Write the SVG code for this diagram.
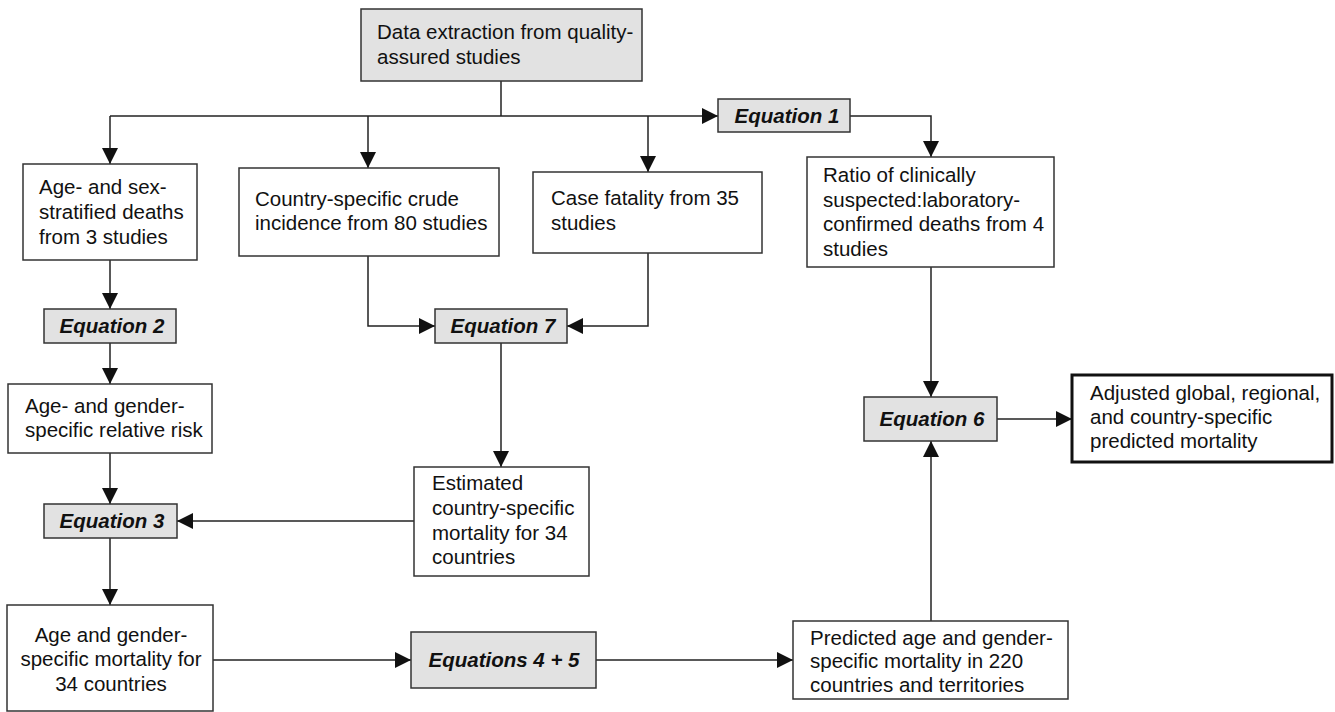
<svg xmlns="http://www.w3.org/2000/svg" width="1335" height="712" viewBox="0 0 1335 712">
<style>
.box{fill:#fff;stroke:#333;stroke-width:1.5}
.eq{fill:#e2e2e2;stroke:#333;stroke-width:1.5}
.bold{fill:#fff;stroke:#111;stroke-width:3}
text{font-family:"Liberation Sans",Arial,sans-serif;font-size:20.5px;fill:#111}
.eqt{font-weight:bold;font-style:italic;text-anchor:middle}
.c{text-anchor:middle}
.ln{fill:none;stroke:#222;stroke-width:1.5}
</style>
<defs>
<marker id="ah" markerUnits="userSpaceOnUse" markerWidth="16" markerHeight="16" viewBox="0 0 16 16" refX="16" refY="8" orient="auto">
<path d="M0,0 L16,8 L0,16 Z" fill="#111"/>
</marker>
</defs>
<g id="connectors">
<path class="ln" d="M501,81 V116"/>
<path class="ln" d="M110,116 H718" marker-end="url(#ah)"/>
<path class="ln" d="M110,116 V164" marker-end="url(#ah)"/>
<path class="ln" d="M368,116 V168" marker-end="url(#ah)"/>
<path class="ln" d="M648,116 V172" marker-end="url(#ah)"/>
<path class="ln" d="M850,116 H931 V157" marker-end="url(#ah)"/>
<path class="ln" d="M110,260 V309" marker-end="url(#ah)"/>
<path class="ln" d="M110,343 V384" marker-end="url(#ah)"/>
<path class="ln" d="M368,256 V326 H435" marker-end="url(#ah)"/>
<path class="ln" d="M648,253 V326 H567" marker-end="url(#ah)"/>
<path class="ln" d="M501,343 V467" marker-end="url(#ah)"/>
<path class="ln" d="M110,453 V504" marker-end="url(#ah)"/>
<path class="ln" d="M414,521 H177" marker-end="url(#ah)"/>
<path class="ln" d="M110,538 V605" marker-end="url(#ah)"/>
<path class="ln" d="M213,660 H411" marker-end="url(#ah)"/>
<path class="ln" d="M596,660 H793" marker-end="url(#ah)"/>
<path class="ln" d="M931,621 V441" marker-end="url(#ah)"/>
<path class="ln" d="M931,267 V397" marker-end="url(#ah)"/>
<path class="ln" d="M997,419 H1072" marker-end="url(#ah)"/>
</g>
<g id="n-data">
<rect class="eq" x="361" y="9" width="281" height="72"/>
<text x="377" y="39">Data extraction from quality-</text>
<text x="377" y="64">assured studies</text>
</g>
<g id="n-eq1">
<rect class="eq" x="718" y="99" width="132" height="33"/>
<text class="eqt" x="787" y="123">Equation 1</text>
</g>
<g id="n-agesex">
<rect class="box" x="23" y="164" width="174" height="96"/>
<text x="39" y="194">Age- and sex-</text>
<text x="39" y="219">stratified deaths</text>
<text x="39" y="244">from 3 studies</text>
</g>
<g id="n-country">
<rect class="box" x="239" y="168" width="260" height="88"/>
<text x="255" y="206">Country-specific crude</text>
<text x="255" y="230">incidence from 80 studies</text>
</g>
<g id="n-case">
<rect class="box" x="533" y="172" width="229" height="81"/>
<text x="551" y="205">Case fatality from 35</text>
<text x="551" y="230">studies</text>
</g>
<g id="n-ratio">
<rect class="box" x="807" y="157" width="247" height="110"/>
<text x="823" y="182">Ratio of clinically</text>
<text x="823" y="207">suspected:laboratory-</text>
<text x="823" y="231">confirmed deaths from 4</text>
<text x="823" y="256">studies</text>
</g>
<g id="n-eq2">
<rect class="eq" x="44" y="309" width="132" height="34"/>
<text class="eqt" x="112" y="333">Equation 2</text>
</g>
<g id="n-eq7">
<rect class="eq" x="435" y="309" width="132" height="34"/>
<text class="eqt" x="503" y="333">Equation 7</text>
</g>
<g id="n-agegender">
<rect class="box" x="8" y="384" width="204" height="69"/>
<text x="25" y="413">Age- and gender-</text>
<text x="25" y="437">specific relative risk</text>
</g>
<g id="n-eq6">
<rect class="eq" x="864" y="397" width="133" height="44"/>
<text class="eqt" x="932" y="426">Equation 6</text>
</g>
<g id="n-adjusted">
<rect class="bold" x="1072" y="375" width="260" height="87"/>
<text x="1090" y="400">Adjusted global, regional,</text>
<text x="1090" y="424">and country-specific</text>
<text x="1090" y="448">predicted mortality</text>
</g>
<g id="n-estimated">
<rect class="box" x="414" y="467" width="175" height="109"/>
<text x="432" y="490">Estimated</text>
<text x="432" y="515">country-specific</text>
<text x="432" y="540">mortality for 34</text>
<text x="432" y="564">countries</text>
</g>
<g id="n-eq3">
<rect class="eq" x="44" y="504" width="133" height="34"/>
<text class="eqt" x="112" y="528">Equation 3</text>
</g>
<g id="n-mortality">
<rect class="box" x="7" y="605" width="206" height="106"/>
<text class="c" x="111" y="642">Age and gender-</text>
<text class="c" x="111" y="666">specific mortality for</text>
<text class="c" x="111" y="691">34 countries</text>
</g>
<g id="n-eq45">
<rect class="eq" x="411" y="632" width="185" height="56"/>
<text class="eqt" x="504" y="667">Equations 4 + 5</text>
</g>
<g id="n-predicted">
<rect class="box" x="793" y="621" width="275" height="78"/>
<text x="810" y="645">Predicted age and gender-</text>
<text x="810" y="668">specific mortality in 220</text>
<text x="810" y="692">countries and territories</text>
</g>
</svg>
